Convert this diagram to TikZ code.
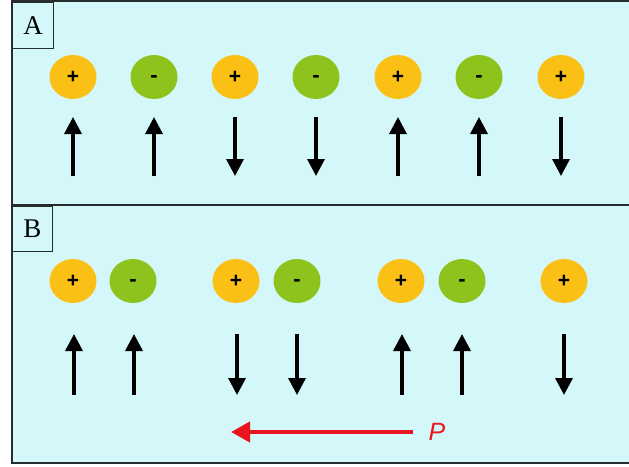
\documentclass[tikz,border=0pt]{standalone}
\usepackage{fontspec}
\setmainfont{Liberation Serif}
\setsansfont{Liberation Sans}
\usetikzlibrary{arrows.meta,shapes.geometric}
\definecolor{bgc}{RGB}{212,248,250}
\definecolor{posc}{RGB}{250,192,22}
\definecolor{negc}{RGB}{142,195,30}
\definecolor{framec}{RGB}{40,44,44}
\definecolor{redc}{RGB}{232,20,30}
\tikzset{
  poscharge/.style={ellipse, fill=posc, minimum width=47pt, minimum height=44pt, inner sep=0pt, font=\sffamily\bfseries\fontsize{21}{21}\selectfont},
  negcharge/.style={ellipse, fill=negc, minimum width=47pt, minimum height=44pt, inner sep=0pt, text height=11pt, text depth=0pt, font=\sffamily\bfseries\fontsize{22}{22}\selectfont},
  spin/.style={line width=3.4pt, -{Triangle[length=17pt,width=17pt]}},
  lbl/.style={draw=framec, line width=1pt, fill=bgc, anchor=north west, minimum width=41pt, minimum height=46pt, inner sep=0pt, font=\fontsize{27}{27}\selectfont}
}
\begin{document}
\begin{tikzpicture}[x=1pt,y=-1pt]
\useasboundingbox (0,0) rectangle (629,466);
\fill[white] (0,0) rectangle (629,466);
\begin{scope}
\clip (0,0) rectangle (629,466);
\fill[bgc] (12,1) rectangle (640,463);
\draw[framec, line width=2.6pt] (12,1) rectangle (640,463);
\draw[framec, line width=2pt] (12,205) -- (640,205);
\end{scope}
\node[lbl] (la) at (12,2) {A};
\node[lbl, minimum width=40pt, minimum height=45pt] (lb) at (12,206) {B};
% Panel A
\node[poscharge] (a1) at (73,77) {+};
\node[negcharge] (a2) at (154,77) {-};
\node[poscharge] (a3) at (235,77) {+};
\node[negcharge] (a4) at (316,77) {-};
\node[poscharge] (a5) at (398,77) {+};
\node[negcharge] (a6) at (479,77) {-};
\node[poscharge] (a7) at (561,77) {+};
\foreach \x [count=\i] in {73,154,235,316,398,479,561}{
  \coordinate (at\i) at (\x,117);
  \coordinate (ab\i) at (\x,176);
}
\draw[spin] (ab1) -- (at1);
\draw[spin] (ab2) -- (at2);
\draw[spin] (at3) -- (ab3);
\draw[spin] (at4) -- (ab4);
\draw[spin] (ab5) -- (at5);
\draw[spin] (ab6) -- (at6);
\draw[spin] (at7) -- (ab7);
% Panel B
\node[poscharge] (b1) at (73,281) {+};
\node[negcharge] (b2) at (133,281) {-};
\node[poscharge] (b3) at (236,281) {+};
\node[negcharge] (b4) at (297,281) {-};
\node[poscharge] (b5) at (401,281) {+};
\node[negcharge] (b6) at (462,281) {-};
\node[poscharge] (b7) at (564,281) {+};
\foreach \x [count=\i] in {74,134,237,297,402,462,564}{
  \coordinate (bt\i) at (\x,334);
  \coordinate (bb\i) at (\x,395);
}
\draw[spin] (bb1) -- (bt1);
\draw[spin] (bb2) -- (bt2);
\draw[spin] (bt3) -- (bb3);
\draw[spin] (bt4) -- (bb4);
\draw[spin] (bb5) -- (bt5);
\draw[spin] (bb6) -- (bt6);
\draw[spin] (bt7) -- (bb7);
% Polarization arrow
\coordinate (ps) at (413,432);
\coordinate (pe) at (231,432);
\draw[redc, line width=4.2pt, -{Triangle[length=19pt,width=20pt]}] (ps) -- (pe);
\node[text=redc, font=\sffamily\itshape\fontsize{25}{25}\selectfont, anchor=west] (P) at (425,432) {P};
\end{tikzpicture}
\end{document}
